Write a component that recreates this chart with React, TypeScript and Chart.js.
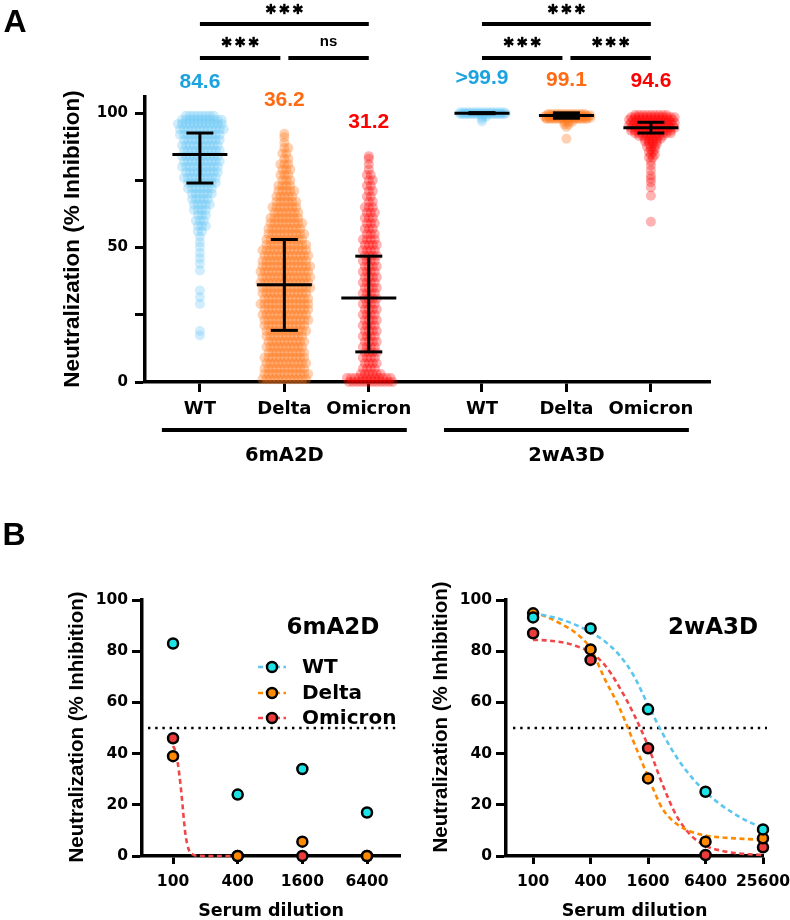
import React, { useEffect, useRef } from 'react';
import { Chart, registerables } from 'chart.js';

Chart.register(...registerables);

const WIDE = '"DejaVu Sans", "Liberation Sans", sans-serif';
const ARIAL = '"Liberation Sans", Arial, sans-serif';

// ---------------- Panel A data ----------------
const slotPositions = [1, 2, 3, 4.34, 5.34, 6.34];
const slotLabels = ['WT', 'Delta', 'Omicron', 'WT', 'Delta', 'Omicron'];
const groupNames = ['6mA2D', '2wA3D'];
const groupCenters = [2, 5.34];
const valueLabels = ['84.6', '36.2', '31.2', '>99.9', '99.1', '94.6'];
const means = [84.6, 36.2, 31.2, 100, 99.1, 94.6];
const sdLow = [74, 19.2, 11.2, 99.8, 98.1, 92.6];
const sdHigh = [92.6, 53, 46.8, 100.2, 100.1, 96.6];
const yTicksA = [0, 25, 50, 75, 100];
const yLabelsA = [0, 50, 100];

// distributions: value levels and number of sera at each level
const wt6Levels = [99, 97.5, 96, 94, 92, 90, 88, 86, 84, 82, 80, 78, 76, 74, 72, 70, 68, 66, 64, 62, 60, 58, 56, 54, 52, 50.2, 48, 46, 44, 41.5, 34, 31.5, 29, 19, 17.3];
const wt6Counts = [8, 11, 12, 12, 11, 10, 10, 10, 10, 10, 10, 9, 9, 8, 7, 6, 5, 5, 4, 3, 3, 3, 2, 1, 1, 1, 1, 1, 1, 1, 1, 1, 1, 1, 1];
const delta6Levels = [92.3, 91, 89, 87, 85, 83, 81, 79, 77, 75, 73, 71, 69, 67, 65, 63, 61, 59, 57, 55, 53, 51, 49, 47, 45, 43, 41, 39, 37, 35, 33, 31, 29, 27, 25, 23, 21, 19, 17, 15, 13, 11, 9, 7, 5, 3, 1];
const delta6Counts = [1, 1, 1, 2, 2, 2, 3, 3, 3, 3, 4, 5, 5, 6, 7, 7, 8, 9, 9, 10, 10, 11, 12, 12, 12, 13, 13, 13, 13, 13, 12, 12, 13, 12, 12, 12, 11, 11, 10, 10, 10, 10, 11, 11, 11, 12, 12];
const omicron6Levels = [84, 83, 81, 79, 77, 75, 73, 71, 69, 67, 65, 63, 61, 59, 57, 55, 53, 51, 49, 47, 45, 43, 41, 39, 37, 35, 33, 31, 29, 27, 25, 23, 21, 19, 17, 15, 13, 11, 9, 7, 5, 3, 1.5, 0];
const omicron6Counts = [1, 1, 1, 1, 2, 2, 2, 2, 2, 2, 3, 3, 3, 3, 3, 3, 4, 4, 4, 4, 4, 4, 4, 4, 4, 4, 4, 4, 4, 4, 4, 4, 4, 4, 4, 4, 4, 4, 4, 4, 4, 6, 12, 12];
const wt2Levels = [100.3, 99.9, 99.6, 98.7, 97.8, 96.9];
const wt2Counts = [12, 12, 12, 2, 1, 1];
const delta2Levels = [99.7, 99.2, 98.7, 98.2, 97.8, 96.8, 95.8, 94.9, 90.5];
const delta2Counts = [10, 12, 12, 12, 11, 3, 2, 1, 1];
const omicron2Levels = [99.3, 98.5, 97.5, 96.5, 95.5, 94.5, 93.5, 92.5, 91.5, 90.5, 89.5, 88.5, 87.5, 86.5, 85.5, 84.5, 83.5, 82, 80.5, 78.7, 76.8, 75.6, 74.3, 72.4, 69.3, 59.6];
const omicron2Counts = [9, 12, 12, 12, 12, 12, 11, 10, 7, 5, 4, 3, 3, 2, 2, 2, 2, 1, 1, 1, 1, 1, 1, 1, 1, 1];

const bracketFrom = [0, 0, 1, 3, 3, 4];
const bracketTo = [2, 1, 2, 5, 4, 5];
const bracketRow = [0, 1, 1, 0, 1, 1];
const bracketText = ['***', '***', 'ns', '***', '***', '***'];

// ---------------- Panel B data ----------------
const doses6 = [100, 400, 1600, 6400];
const wt6B = [83, 24, 34, 17];
const delta6B = [39, 0, 5.6, 0];
const omicron6B = [46, 0, 0, 0];
const curve6Doses = [100, 105, 110, 115, 120, 125, 130, 140, 150, 175, 250, 400];
const curve6Omicron = [43, 41, 37, 31, 24, 16, 9, 2.5, 0.8, 0.1, 0, 0];

const doses2 = [100, 400, 1600, 6400, 25600];
const wt2B = [93.2, 88.9, 57.3, 25.1, 10.4];
const delta2B = [94.8, 80.7, 30.3, 5.6, 6.9];
const omicron2B = [87, 76.6, 42.1, 0.4, 3.4];
const curve2Doses = [100, 141, 200, 283, 400, 566, 800, 1131, 1600, 2263, 3200, 4525, 6400, 9051, 12800, 18102, 25600];
const curve2WT = [94.8, 93.8, 92.3, 90.2, 87.4, 83.8, 78.5, 70.5, 59, 48, 38.5, 31, 25, 20.3, 16.5, 13.4, 11];
const curve2Delta = [95.4, 93.3, 90.5, 87, 81, 69, 58, 44.5, 31, 18.5, 12.5, 9.5, 8, 7.3, 6.9, 6.6, 6.3];
const curve2Omicron = [84.4, 84.2, 83.5, 82, 79.5, 74.5, 66, 55.5, 43, 28, 15.5, 8, 4, 2.2, 1.2, 0.7, 0.4];

const variantNames = ['WT', 'Delta', 'Omicron'];
const yTicksB = [0, 20, 40, 60, 80, 100];

// ---------------- styles ----------------
const swarmColors = ['rgba(105,200,245,0.32)', 'rgba(255,120,30,0.34)', 'rgba(255,0,0,0.3)'];
const labelColors = ['#1ba3e0', '#ff6a13', '#ff0000'];
const pointFills = ['#1ee3e6', '#ff8a00', '#ec3b3b'];
const curveColors = ['#5cc6ee', '#ff8a00', '#f04848'];
const SWARM_STEP = 0.047;

function swarmPoints(center: number, levels: number[], counts: number[]) {
  const pts: any[] = [];
  levels.forEach((v, i) => {
    const n = counts[i];
    const shift = i % 2 ? SWARM_STEP * 0.5 : 0;
    for (let j = 0; j < n; j++) {
      pts.push({ x: center + (j - (n - 1) / 2) * SWARM_STEP + (n > 1 ? shift : 0), y: v });
    }
  });
  return pts;
}

function seg(ctx: any, x1: number, y1: number, x2: number, y2: number) {
  ctx.beginPath();
  ctx.moveTo(x1, y1);
  ctx.lineTo(x2, y2);
  ctx.stroke();
}

function drawStar(ctx: any, cx: number, cy: number, r: number) {
  [90, 30, 150].forEach((a) => {
    const rad = (a * Math.PI) / 180;
    const dx = Math.cos(rad) * r;
    const dy = Math.sin(rad) * r;
    seg(ctx, cx - dx, cy - dy, cx + dx, cy + dy);
  });
}

function vText(ctx: any, text: string, x: number, y: number, font: string) {
  ctx.save();
  ctx.translate(x, y);
  ctx.rotate(-Math.PI / 2);
  ctx.font = font;
  ctx.fillStyle = '#000';
  ctx.textAlign = 'center';
  ctx.textBaseline = 'middle';
  ctx.fillText(text, 0, 0);
  ctx.restore();
}

const panelAPlugin = {
  id: 'panelA',
  afterDatasetsDraw(chart: any) {
    const { ctx } = chart;
    const x = chart.scales.x;
    const y = chart.scales.y;
    ctx.save();
    ctx.strokeStyle = '#000';
    ctx.fillStyle = '#000';
    ctx.lineCap = 'butt';
    // mean +/- SD
    ctx.lineWidth = 3;
    slotPositions.forEach((pos, i) => {
      const px = x.getPixelForValue(pos);
      const ym = y.getPixelForValue(means[i]);
      const yl = y.getPixelForValue(sdLow[i]);
      const yh = y.getPixelForValue(sdHigh[i]);
      seg(ctx, px - 27.5, ym, px + 27.5, ym);
      seg(ctx, px, yh, px, yl);
      seg(ctx, px - 13.5, yh, px + 13.5, yh);
      seg(ctx, px - 13.5, yl, px + 13.5, yl);
    });
    // value labels
    const levelsAll = [wt6Levels, delta6Levels, omicron6Levels, wt2Levels, delta2Levels, omicron2Levels];
    ctx.font = `bold 21px ${ARIAL}`;
    ctx.textAlign = 'center';
    ctx.textBaseline = 'middle';
    valueLabels.forEach((t, i) => {
      const top = Math.max(...levelsAll[i]);
      ctx.fillStyle = labelColors[i % 3];
      ctx.fillText(t, x.getPixelForValue(slotPositions[i]), y.getPixelForValue(top) - 34);
    });
    // brackets
    ctx.fillStyle = '#000';
    ctx.lineWidth = 4;
    const rowY = [24, 58];
    const rowTextY = [9, 42];
    bracketFrom.forEach((f, k) => {
      let x1 = x.getPixelForValue(slotPositions[f]);
      let x2 = x.getPixelForValue(slotPositions[bracketTo[k]]);
      if (bracketRow[k] === 1) {
        if (f % 3 === 1) x1 += 4;
        if (bracketTo[k] % 3 === 1) x2 -= 4;
      }
      const r = bracketRow[k];
      ctx.lineWidth = 4;
      seg(ctx, x1, rowY[r], x2, rowY[r]);
      const cx = (x1 + x2) / 2;
      if (bracketText[k] === '***') {
        ctx.lineWidth = 2.4;
        [-13.5, 0, 13.5].forEach((d) => drawStar(ctx, cx + d, rowTextY[r], 5.2));
      } else {
        ctx.font = `bold 15px ${ARIAL}`;
        ctx.fillText(bracketText[k], cx, rowTextY[r]);
      }
    });
    // group bars + labels
    ctx.lineWidth = 4;
    ctx.font = `bold 19.5px ${WIDE}`;
    groupCenters.forEach((c, g) => {
      const x1 = x.getPixelForValue(c - 1.45);
      const x2 = x.getPixelForValue(c + 1.45);
      seg(ctx, x1, 430, x2, 430);
      ctx.fillText(groupNames[g], (x1 + x2) / 2, 456);
    });
    // titles
    vText(ctx, 'Neutralization (% Inhibition)', 73, 239, `bold 22.5px ${ARIAL}`);
    ctx.font = `bold 32px ${ARIAL}`;
    ctx.textAlign = 'center';
    ctx.fillText('A', 15, 23);
    ctx.restore();
  },
};

function axisStyle(tickLen: number) {
  return {
    grid: { display: true, drawOnChartArea: false, drawTicks: true, tickLength: tickLen, tickWidth: 3, tickColor: '#000' },
    border: { display: true, color: '#000', width: 3.5 },
  };
}

function panelAConfig(): any {
  const levels = [wt6Levels, delta6Levels, omicron6Levels, wt2Levels, delta2Levels, omicron2Levels];
  const counts = [wt6Counts, delta6Counts, omicron6Counts, wt2Counts, delta2Counts, omicron2Counts];
  return {
    type: 'scatter',
    data: {
      datasets: levels.map((lv, i) => ({
        label: slotLabels[i],
        data: swarmPoints(slotPositions[i], lv, counts[i]),
        pointRadius: 5,
        pointHoverRadius: 5,
        pointBackgroundColor: swarmColors[i % 3],
        pointBorderWidth: 0,
        borderWidth: 0,
        clip: false,
      })),
    },
    options: {
      animation: false,
      responsive: false,
      devicePixelRatio: 1,
      events: [],
      layout: { padding: { top: 97, left: 0, right: 80, bottom: 0 } },
      plugins: { legend: { display: false }, tooltip: { enabled: false } },
      scales: {
        x: {
          type: 'linear',
          min: 0.35,
          max: 7.04,
          afterBuildTicks: (s: any) => { s.ticks = slotPositions.map((v) => ({ value: v })); },
          afterFit: (s: any) => { s.height = 118; s.paddingLeft = 0; s.paddingRight = 0; },
          ticks: {
            callback: (_v: any, i: number) => slotLabels[i],
            font: { family: WIDE, size: 18, weight: 'bold' },
            color: '#000', padding: 7, maxRotation: 0, autoSkip: false,
          },
          ...axisStyle(10),
        },
        y: {
          min: 0,
          max: 106,
          afterBuildTicks: (s: any) => { s.ticks = yTicksA.map((v) => ({ value: v })); },
          afterFit: (s: any) => { s.width = 145; s.paddingTop = 0; s.paddingBottom = 0; },
          ticks: {
            callback: (v: any) => (yLabelsA.includes(v) ? String(v) : ''),
            font: { family: WIDE, size: 15, weight: 'bold' },
            color: '#000', padding: 7,
          },
          ...axisStyle(10),
        },
      },
    },
    plugins: [panelAPlugin],
  };
}

function doseConfig(cfg: any): any {
  const pointSets = cfg.series.map((vals: number[], i: number) => ({
    label: variantNames[i],
    data: cfg.doses.map((d: number, k: number) => ({ x: d, y: vals[k] })),
    showLine: false,
    pointRadius: 5,
    pointHoverRadius: 5,
    pointBackgroundColor: pointFills[i],
    pointBorderColor: '#000',
    pointBorderWidth: 2.5,
    clip: false,
  }));
  const curveSets = cfg.curves.map((c: any) => ({
    label: 'fit ' + variantNames[c.variant],
    data: c.x.map((d: number, k: number) => ({ x: d, y: c.y[k] })),
    showLine: true,
    borderColor: curveColors[c.variant],
    borderWidth: 2.6,
    borderDash: [5, 3.5],
    pointRadius: 0,
    cubicInterpolationMode: 'monotone',
    clip: false,
  }));
  const plugin = {
    id: 'doseDecor',
    beforeDatasetsDraw(chart: any) {
      const { ctx, chartArea } = chart;
      const y = chart.scales.y;
      ctx.save();
      ctx.strokeStyle = '#000';
      ctx.lineWidth = 2.4;
      ctx.setLineDash([2.4, 4.8]);
      const yy = y.getPixelForValue(50);
      seg(ctx, chartArea.left + cfg.dotFrom, yy, chartArea.right + cfg.dotTo, yy);
      ctx.restore();
    },
    afterDraw(chart: any) {
      const { ctx, chartArea } = chart;
      ctx.save();
      ctx.fillStyle = '#000';
      ctx.textAlign = 'center';
      ctx.textBaseline = 'middle';
      ctx.font = `bold 23px ${WIDE}`;
      ctx.fillText(cfg.title, cfg.titleX, 128);
      ctx.font = `bold 17.5px ${WIDE}`;
      ctx.fillText('Serum dilution', (chartArea.left + chartArea.right) / 2, 411);
      vText(ctx, 'Neutralization (% Inhibition)', cfg.yTitleX, cfg.yTitleY, `bold 20.5px ${ARIAL}`);
      if (cfg.letter) {
        ctx.font = `bold 32px ${ARIAL}`;
        ctx.fillText(cfg.letter, 14, 36);
      }
      if (cfg.legend) {
        const rows = [167, 193, 218];
        variantNames.forEach((name, i) => {
          ctx.strokeStyle = curveColors[i];
          ctx.lineWidth = 2.6;
          ctx.setLineDash([5, 3.5]);
          seg(ctx, 258, rows[i], 286, rows[i]);
          ctx.setLineDash([]);
          ctx.beginPath();
          ctx.arc(272, rows[i], 5, 0, Math.PI * 2);
          ctx.fillStyle = pointFills[i];
          ctx.fill();
          ctx.strokeStyle = '#000';
          ctx.lineWidth = 2.5;
          ctx.stroke();
          ctx.fillStyle = '#000';
          ctx.font = `bold 20px ${WIDE}`;
          ctx.textAlign = 'left';
          ctx.fillText(name, 302, rows[i] + 1);
        });
      }
      ctx.restore();
    },
  };
  return {
    type: 'scatter',
    data: { datasets: [...pointSets, ...curveSets] },
    options: {
      animation: false,
      responsive: false,
      devicePixelRatio: 1,
      events: [],
      layout: { padding: { top: 100, left: 0, right: cfg.padRight, bottom: 0 } },
      plugins: { legend: { display: false }, tooltip: { enabled: false } },
      scales: {
        x: {
          type: 'logarithmic',
          min: cfg.xMin,
          max: cfg.xMax,
          afterBuildTicks: (s: any) => { s.ticks = cfg.doses.map((v: number) => ({ value: v })); },
          afterFit: (s: any) => { s.height = 64; s.paddingLeft = 0; s.paddingRight = 0; },
          ticks: {
            callback: (v: any) => String(v),
            font: { family: WIDE, size: 15.5, weight: 'bold' },
            color: '#000', padding: 9, maxRotation: 0, autoSkip: false,
          },
          ...axisStyle(8),
        },
        y: {
          min: 0,
          max: 100,
          afterBuildTicks: (s: any) => { s.ticks = yTicksB.map((v) => ({ value: v })); },
          afterFit: (s: any) => { s.width = cfg.yWidth; s.paddingTop = 0; s.paddingBottom = 0; },
          ticks: {
            callback: (v: any) => String(v),
            font: { family: WIDE, size: 15.5, weight: 'bold' },
            color: '#000', padding: 4,
          },
          ...axisStyle(10),
        },
      },
    },
    plugins: [plugin],
  };
}

const leftB = {
  doses: doses6,
  series: [wt6B, delta6B, omicron6B],
  curves: [{ variant: 2, x: curve6Doses, y: curve6Omicron }],
  xMin: 51.4,
  xMax: 12980,
  padRight: 10,
  yWidth: 142,
  title: '6mA2D',
  titleX: 333,
  yTitleX: 77,
  yTitleY: 227,
  legend: true,
  letter: 'B',
  dotFrom: 6,
  dotTo: -2,
};

const rightB = {
  doses: doses2,
  series: [wt2B, delta2B, omicron2B],
  curves: [
    { variant: 0, x: curve2Doses, y: curve2WT },
    { variant: 1, x: curve2Doses, y: curve2Delta },
    { variant: 2, x: curve2Doses, y: curve2Omicron },
  ],
  xMin: 52,
  xMax: 25600,
  padRight: 27,
  yWidth: 106,
  title: '2wA3D',
  titleX: 313,
  yTitleX: 41,
  yTitleY: 217,
  legend: false,
  letter: '',
  dotFrom: 7,
  dotTo: 4,
};

export default function App() {
  const aRef = useRef<HTMLCanvasElement>(null);
  const b1Ref = useRef<HTMLCanvasElement>(null);
  const b2Ref = useRef<HTMLCanvasElement>(null);
  useEffect(() => {
    const charts = [
      new Chart(aRef.current as any, panelAConfig()),
      new Chart(b1Ref.current as any, doseConfig(leftB)),
      new Chart(b2Ref.current as any, doseConfig(rightB)),
    ];
    return () => charts.forEach((c) => c.destroy());
  }, []);
  return (
    <div style={{ position: 'absolute', left: 0, top: 0, width: 790, height: 920, background: '#fff', overflow: 'hidden' }}>
      <canvas ref={aRef} width={790} height={500} style={{ position: 'absolute', left: 0, top: 0 }} />
      <canvas ref={b1Ref} width={410} height={420} style={{ position: 'absolute', left: 0, top: 500 }} />
      <canvas ref={b2Ref} width={390} height={420} style={{ position: 'absolute', left: 400, top: 500 }} />
    </div>
  );
}
